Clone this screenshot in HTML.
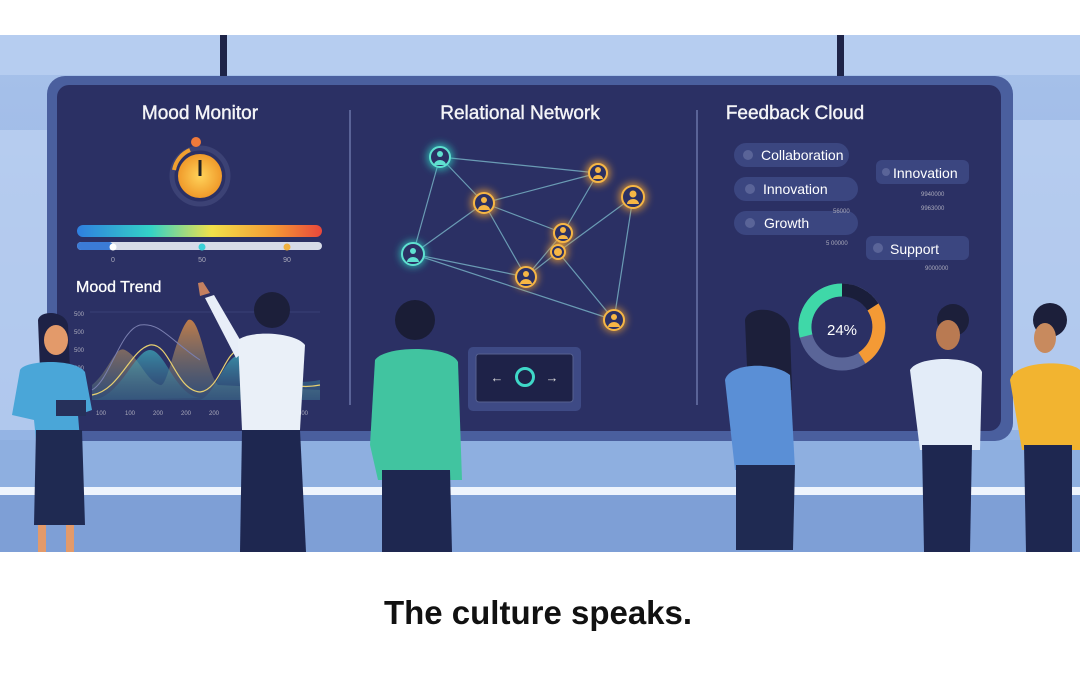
<!DOCTYPE html>
<html><head><meta charset="utf-8"><style>
html,body{margin:0;padding:0;background:#fff;width:1080px;height:675px;overflow:hidden}
svg{display:block}
text{font-family:"Liberation Sans",sans-serif}
</style></head><body>
<svg width="1080" height="675" viewBox="0 0 1080 675" xmlns="http://www.w3.org/2000/svg">
<defs>
<linearGradient id="bg" x1="0" y1="0" x2="0" y2="1"><stop offset="0" stop-color="#a7c1ea"/><stop offset="1" stop-color="#8fb0e2"/></linearGradient>
<linearGradient id="rb" x1="0" x2="1"><stop offset="0" stop-color="#2f7fe0"/><stop offset=".3" stop-color="#33d2c6"/><stop offset=".55" stop-color="#f2e04a"/><stop offset=".8" stop-color="#f49a35"/><stop offset="1" stop-color="#e9473b"/></linearGradient>
<radialGradient id="gg"><stop offset="0" stop-color="#ffd35a"/><stop offset="1" stop-color="#f09a2a"/></radialGradient>
<filter id="gl"><feGaussianBlur stdDeviation="4"/></filter>
<linearGradient id="ch" x1="0" y1="0" x2="0" y2="1"><stop offset="0" stop-color="#d98a45" stop-opacity=".85"/><stop offset="1" stop-color="#3a6a8a" stop-opacity=".5"/></linearGradient>
<linearGradient id="ch2" x1="0" y1="0" x2="0" y2="1"><stop offset="0" stop-color="#3fb0c0" stop-opacity=".7"/><stop offset="1" stop-color="#3a6a8a" stop-opacity=".3"/></linearGradient>
</defs>
<rect x="0" y="35" width="1080" height="517" fill="url(#bg)"/>
<rect x="0" y="35" width="1080" height="40" fill="#b6cdf0"/>
<rect x="0" y="130" width="60" height="300" fill="#c3d6f3" opacity=".6"/>
<rect x="1010" y="120" width="70" height="310" fill="#c3d6f3" opacity=".6"/>
<rect x="0" y="440" width="1080" height="48" fill="#8eafe0"/>
<rect x="0" y="487" width="1080" height="8" fill="#eef4fd"/>
<rect x="0" y="495" width="1080" height="57" fill="#7e9fd6"/>
<rect x="220" y="35" width="7" height="45" fill="#1e2448"/>
<rect x="837" y="35" width="7" height="45" fill="#1e2448"/>
<rect x="47" y="76" width="966" height="365" rx="18" fill="#4a5f9e"/>
<rect x="57" y="85" width="944" height="346" rx="12" fill="#2b3064"/>
<line x1="350" y1="110" x2="350" y2="405" stroke="#6a74a8" stroke-width="1.5"/>
<line x1="697" y1="110" x2="697" y2="405" stroke="#6a74a8" stroke-width="1.5"/>
<g fill="#fff" font-size="19" font-weight="bold" text-anchor="middle" opacity=".95">
<text x="200" y="119" font-weight="normal" stroke="#fff" stroke-width=".4">Mood Monitor</text>
<text x="520" y="119" font-weight="normal" stroke="#fff" stroke-width=".4">Relational Network</text>
<text x="795" y="119" font-weight="normal" stroke="#fff" stroke-width=".4">Feedback Cloud</text></g>
<circle cx="200" cy="176" r="28" fill="none" stroke="#3c4275" stroke-width="5"/>
<circle cx="200" cy="176" r="22" fill="url(#gg)"/>
<path d="M174 170 A27 27 0 0 1 190 150" stroke="#f0a030" stroke-width="4" fill="none"/>
<circle cx="196" cy="142" r="5" fill="#f07a3a"/>
<line x1="200" y1="176" x2="200" y2="160" stroke="#222" stroke-width="3"/>
<rect x="77" y="225" width="245" height="12" rx="6" fill="url(#rb)"/>
<rect x="77" y="242" width="245" height="8" rx="4" fill="#d7dbe8"/>
<rect x="77" y="242" width="36" height="8" rx="4" fill="#3b7bd6"/>
<circle cx="113" cy="247" r="3.5" fill="#fff"/><circle cx="202" cy="247" r="3.5" fill="#3bd0d8"/><circle cx="287" cy="247" r="3.5" fill="#f0b040"/>
<text x="113" y="262" fill="#aab" font-size="7" text-anchor="middle">0</text>
<text x="202" y="262" fill="#aab" font-size="7" text-anchor="middle">50</text>
<text x="287" y="262" fill="#aab" font-size="7" text-anchor="middle">90</text>
<text x="76" y="292" fill="#fff" font-size="16" stroke="#fff" stroke-width=".3">Mood Trend</text>
<g fill="#aab" font-size="6"><text x="74" y="316">500</text><text x="74" y="334">500</text><text x="74" y="352">500</text><text x="74" y="370">200</text><text x="74" y="388">100</text>
<text x="96" y="415">100</text><text x="125" y="415">100</text><text x="153" y="415">200</text><text x="181" y="415">200</text><text x="209" y="415">200</text><text x="298" y="415">300</text></g>
<line x1="90" y1="312" x2="320" y2="312" stroke="#4a5088" stroke-width=".6"/>
<path d="M92 400 L92 385 C110 370 115 345 125 350 C140 358 145 380 160 385 C168 388 175 335 188 320 C200 315 205 370 218 385 L320 390 L320 400 Z" fill="url(#ch)"/>
<path d="M92 400 C120 398 135 350 150 350 C165 350 175 395 200 398 Z" fill="url(#ch2)"/>
<path d="M200 400 C215 395 225 355 240 355 C260 356 270 390 320 380 L320 400 Z" fill="url(#ch2)"/>
<path d="M92 395 C120 390 130 350 150 345 C170 342 175 390 200 392 C220 390 225 350 240 350 C260 352 270 395 320 385" stroke="#e8d070" stroke-width="1.2" fill="none"/>
<path d="M92 390 C110 380 120 330 140 325 C160 322 170 340 200 360" stroke="#7a7fb0" stroke-width="1" fill="none"/>
<g stroke="#7ab6c9" stroke-width="1.2" opacity=".8">
<line x1="440" y1="157" x2="598" y2="173"/><line x1="440" y1="157" x2="484" y2="203"/><line x1="440" y1="157" x2="413" y2="254"/>
<line x1="484" y1="203" x2="598" y2="173"/><line x1="484" y1="203" x2="413" y2="254"/><line x1="484" y1="203" x2="563" y2="233"/><line x1="484" y1="203" x2="526" y2="277"/>
<line x1="413" y1="254" x2="526" y2="277"/><line x1="413" y1="254" x2="614" y2="320"/><line x1="598" y1="173" x2="563" y2="233"/><line x1="633" y1="197" x2="558" y2="252"/><line x1="633" y1="197" x2="614" y2="320"/><line x1="563" y1="233" x2="526" y2="277"/><line x1="558" y1="252" x2="614" y2="320"/><line x1="558" y1="252" x2="526" y2="277"/></g>
<g filter="url(#gl)" opacity=".8"><circle cx="440" cy="157" r="13" fill="#2fd0c0"/><circle cx="413" cy="254" r="13" fill="#2fd0c0"/>
<circle cx="484" cy="203" r="13" fill="#f0a030"/><circle cx="598" cy="173" r="12" fill="#f0a030"/><circle cx="633" cy="197" r="14" fill="#f0a030"/><circle cx="563" cy="233" r="11" fill="#f0a030"/><circle cx="558" cy="252" r="10" fill="#f0a030"/><circle cx="526" cy="277" r="12" fill="#f0a030"/><circle cx="614" cy="320" r="12" fill="#f0a030"/></g>
<g stroke-width="2" fill="#2b3064">
<circle cx="440" cy="157" r="10" stroke="#5fe0d0"/><circle cx="413" cy="254" r="11" stroke="#5fe0d0"/>
<circle cx="484" cy="203" r="10" stroke="#f6b645"/><circle cx="598" cy="173" r="9" stroke="#f6b645"/><circle cx="633" cy="197" r="11" stroke="#f6b645"/><circle cx="563" cy="233" r="9" stroke="#f6b645"/><circle cx="558" cy="252" r="7" stroke="#f6b645"/><circle cx="526" cy="277" r="10" stroke="#f6b645"/><circle cx="614" cy="320" r="10" stroke="#f6b645"/></g>
<g fill="#5fe0d0"><circle cx="440" cy="154" r="3"/><circle cx="413" cy="251" r="3"/><path d="M434 165 a6 5 0 0 1 12 0z"/><path d="M407 262 a6 5 0 0 1 12 0z"/></g>
<g fill="#f6b645"><circle cx="484" cy="200" r="3"/><circle cx="598" cy="170" r="3"/><circle cx="633" cy="194" r="3.5"/><circle cx="563" cy="230" r="3"/><circle cx="526" cy="274" r="3"/><circle cx="614" cy="317" r="3"/><circle cx="558" cy="252" r="4"/>
<path d="M478 210 a6 5 0 0 1 12 0z"/><path d="M593 179 a5 4 0 0 1 10 0z"/><path d="M627 204 a6 5 0 0 1 12 0z"/><path d="M558 239 a5 4 0 0 1 10 0z"/><path d="M520 284 a6 5 0 0 1 12 0z"/><path d="M608 327 a6 5 0 0 1 12 0z"/></g>
<rect x="468" y="347" width="113" height="64" rx="5" fill="#3e4a85"/>
<rect x="476" y="354" width="97" height="48" rx="3" fill="#1e2248" stroke="#55608f"/>
<text x="497" y="382" fill="#ddd" font-size="13" text-anchor="middle">←</text>
<text x="552" y="382" fill="#ddd" font-size="13" text-anchor="middle">→</text>
<circle cx="525" cy="377" r="8.5" fill="none" stroke="#3fd8c8" stroke-width="3"/>
<g fill="#3b4680"><rect x="734" y="143" width="115" height="24" rx="12"/><rect x="734" y="177" width="124" height="24" rx="12"/><rect x="734" y="211" width="124" height="24" rx="12"/><rect x="876" y="160" width="93" height="24" rx="6"/><rect x="866" y="236" width="103" height="24" rx="6"/></g>
<g fill="#5a6498"><circle cx="748" cy="155" r="5"/><circle cx="750" cy="189" r="5"/><circle cx="750" cy="223" r="5"/><circle cx="886" cy="172" r="4"/><circle cx="878" cy="248" r="5"/></g>
<g fill="#fff" font-size="14"><text x="761" y="160">Collaboration</text><text x="763" y="194">Innovation</text><text x="764" y="228">Growth</text><text x="893" y="178">Innovation</text><text x="890" y="254">Support</text></g>
<g fill="#aab" font-size="6"><text x="833" y="213">56000</text><text x="921" y="196">9940000</text><text x="921" y="210">9963000</text><text x="826" y="245">5 00000</text><text x="925" y="270">9000000</text></g>
<circle cx="842" cy="327" r="37" fill="none" stroke="#5a6598" stroke-width="13"/>
<path d="M842 290 A37 37 0 0 1 873 307" stroke="#1a1e3a" stroke-width="13" fill="none"/>
<path d="M873 307 A37 37 0 0 1 862 358" stroke="#f49a35" stroke-width="13" fill="none"/>
<path d="M806 336 A37 37 0 0 1 842 290" stroke="#3fd8a8" stroke-width="13" fill="none"/>
<text x="842" y="335" fill="#fff" font-size="15" text-anchor="middle">24%</text>
<g>
<path d="M38 320 C40 310 65 310 68 325 L70 370 L40 370 Z" fill="#1e2246"/>
<ellipse cx="56" cy="340" rx="12" ry="15" fill="#e39a6a"/>
<path d="M20 370 C25 360 75 358 85 372 L92 410 L78 415 L80 440 L36 440 L34 420 L12 415 Z" fill="#4aa6d8"/>
<rect x="56" y="400" width="30" height="16" fill="#26305a"/>
<path d="M36 430 L82 430 L85 525 L34 525 Z" fill="#1f2a52"/>
<rect x="38" y="525" width="8" height="27" fill="#e39a6a"/><rect x="66" y="525" width="8" height="27" fill="#e39a6a"/>
<path d="M205 298 L214 295 L246 350 L236 358 Z" fill="#e8eef8"/>
<path d="M200 296 L198 283 L203 282 L210 293 Z" fill="#c48060"/>
<circle cx="272" cy="310" r="18" fill="#1c1f3a"/>
<path d="M238 340 C250 330 295 332 305 345 L300 430 L242 430 Z" fill="#eaf0f8"/>
<path d="M242 430 L300 430 L306 552 L240 552 Z" fill="#1e2750"/>
<circle cx="415" cy="320" r="20" fill="#1a1d36"/>
<path d="M375 360 C385 345 450 345 458 362 L462 480 L378 480 L370 445 Z" fill="#41c4a0"/>
<path d="M382 470 L450 470 L452 552 L382 552 Z" fill="#1e2750"/>
<path d="M745 320 C748 305 785 305 790 330 L792 390 L748 390 Z" fill="#1c1f3a"/>
<path d="M725 380 C730 362 775 362 790 375 L795 470 L735 470 Z" fill="#5a8fd6"/>
<path d="M736 465 L795 465 L793 550 L736 550 Z" fill="#1f2a52"/>
<circle cx="953" cy="320" r="16" fill="#1c1f3a"/>
<ellipse cx="948" cy="335" rx="12" ry="15" fill="#b97a52"/>
<path d="M910 370 C918 355 975 355 982 372 L980 450 L920 450 Z" fill="#e3ecf8"/>
<path d="M922 445 L972 445 L970 552 L924 552 Z" fill="#1e2750"/>
<circle cx="1050" cy="320" r="17" fill="#1c1f3a"/>
<ellipse cx="1045" cy="338" rx="11" ry="15" fill="#c88a5e"/>
<path d="M1010 380 C1015 360 1070 360 1080 370 L1080 450 L1022 450 Z" fill="#f2b430"/>
<path d="M1024 445 L1072 445 L1072 552 L1026 552 Z" fill="#1e2750"/>
</g>
<text x="538" y="624" fill="#111" font-size="33" font-weight="bold" text-anchor="middle">The culture speaks.</text>
</svg>
</body></html>
